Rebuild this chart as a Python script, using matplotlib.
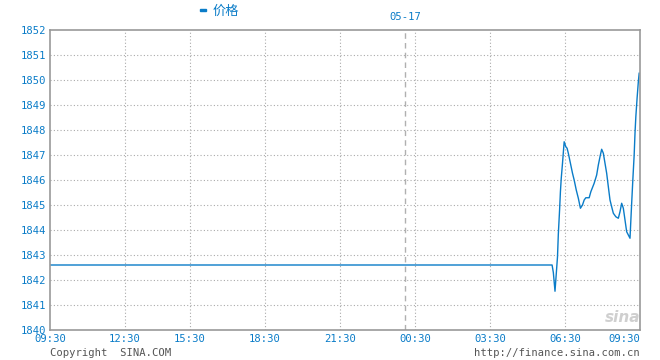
import matplotlib
matplotlib.use("Agg")
from matplotlib import pyplot as plt

# ---- DATA ----

# time slots (minutes on the chart's own axis, 09:30 = 0) and prices
slots = [0, 1205, 1208, 1212, 1218, 1220, 1223, 1225, 1227, 1230, 1234, 1238,
         1241, 1244, 1249, 1254, 1258, 1263, 1268, 1273, 1278, 1282, 1286,
         1294, 1298, 1306, 1312, 1316, 1320, 1324, 1328, 1332, 1336, 1340,
         1344, 1348, 1352, 1358, 1364, 1368, 1372, 1376, 1380, 1384, 1388,
         1392, 1396, 1399, 1402, 1404, 1406, 1409, 1412, 1414]
prices = [1842.6, 1842.6, 1842.3, 1841.55, 1842.93, 1843.84, 1844.8, 1845.53,
          1846.07, 1846.67, 1847.53, 1847.33, 1847.27, 1847.07, 1846.67,
          1846.27, 1846.0, 1845.6, 1845.27, 1844.87, 1845.0, 1845.2, 1845.29,
          1845.29, 1845.53, 1845.87, 1846.2, 1846.6, 1846.93, 1847.23, 1847.07,
          1846.67, 1846.27, 1845.73, 1845.2, 1844.93, 1844.67, 1844.53,
          1844.47, 1844.73, 1845.07, 1844.87, 1844.4, 1843.93, 1843.8,
          1843.67, 1845.07, 1846.07, 1847.0, 1847.87, 1848.53, 1849.27,
          1849.93, 1850.27]

tick_slots = [0, 180, 336, 516, 696, 876, 1056, 1236, 1416]
tick_labels = ["09:30", "12:30", "15:30", "18:30", "21:30", "00:30", "03:30", "06:30", "09:30"]
day_break = 853
day_label = "05-17"
y_ticks = list(range(1840, 1853))

# ---- STYLE ----
blue = "#0a7cc8"
grid_gray = "#aaaaaa"
text_gray = "#555555"
mono = "DejaVu Sans Mono"

W, H = 660, 360
fig = plt.figure(figsize=(W / 100, H / 100), dpi=100)
ax = fig.add_axes([50 / W, (H - 330) / H, 590 / W, 300 / H])

ax.plot(slots, prices, color=blue, lw=1.0)

ax.set_xlim(tick_slots[0], tick_slots[-1])
ax.set_ylim(y_ticks[0], y_ticks[-1])

# grid
for t in tick_slots[1:-1]:
    ax.axvline(t, color=grid_gray, lw=0.8, ls=(0, (1, 2)), zorder=0)
for v in y_ticks[1:-1]:
    ax.axhline(v, color=grid_gray, lw=0.8, ls=(0, (1, 2)), zorder=0)
ax.axvline(day_break, color="#b0b0b0", lw=1.0, ls=(0, (4, 3)), zorder=0)

for s in ax.spines.values():
    s.set_color("#999999")
    s.set_linewidth(1.2)

ax.set_yticks(y_ticks)
ax.set_yticklabels([str(v) for v in y_ticks])
ax.set_xticks(tick_slots)
ax.set_xticklabels(tick_labels)
ax.tick_params(length=0, labelsize=7.6, labelcolor=blue, pad=3)
for lab in ax.get_yticklabels() + ax.get_xticklabels():
    lab.set_family(mono)
ax.get_xticklabels()[-1].set_horizontalalignment("right")
ax.get_xticklabels()[-1].set_x(tick_slots[-1])

# date label over the day break
ax.text(day_break, 1852.3, day_label, color=blue, fontsize=7.6, family=mono,
        ha="center", va="bottom")

# legend
fig.patches.append(plt.Rectangle((200 / W, 1 - 11 / H), 6 / W, 2.5 / H,
                                 transform=fig.transFigure, color=blue))
fig.text(213 / W, 1 - 11 / H, "价格", color=blue, fontsize=9.5,
         family=["Noto Sans CJK SC", "DejaVu Sans"], va="center", ha="left")

# footer
fig.text(50 / W, 1 - 353 / H, "Copyright  SINA.COM", color=text_gray,
         fontsize=7.6, family=mono, va="center", ha="left")
fig.text(640 / W, 1 - 353 / H, "http://finance.sina.com.cn", color=text_gray,
         fontsize=7.6, family=mono, va="center", ha="right")

# watermark
fig.text(623 / W, 1 - 318 / H, "sina", color="#c4c4c4", fontsize=11,
         style="italic", weight="bold", va="center", ha="center", alpha=0.8)

fig.savefig("out.png", dpi=100)
